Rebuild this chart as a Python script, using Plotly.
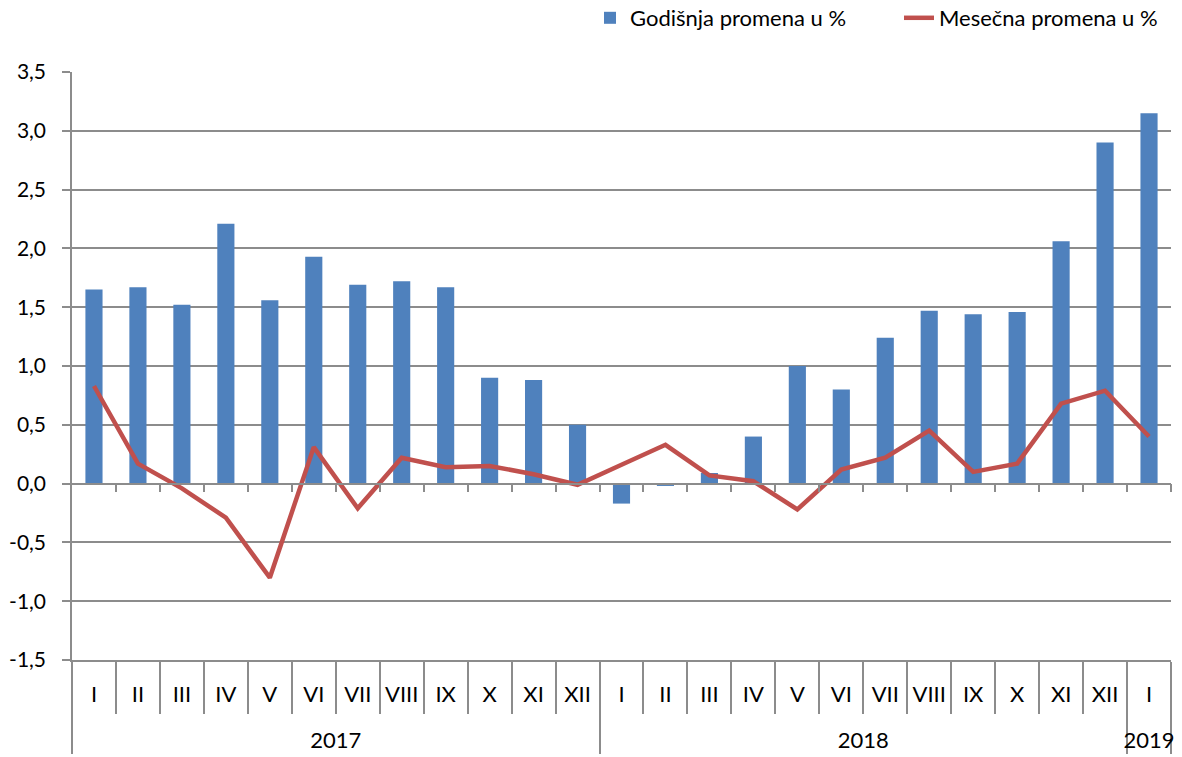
import plotly.graph_objects as go

years = ["2017"] * 12 + ["2018"] * 12 + ["2019"]
months = ["I", "II", "III", "IV", "V", "VI", "VII", "VIII", "IX", "X", "XI", "XII",
          "I", "II", "III", "IV", "V", "VI", "VII", "VIII", "IX", "X", "XI", "XII",
          "I"]
annual = [1.65, 1.67, 1.52, 2.21, 1.56, 1.93, 1.69, 1.72, 1.67, 0.90, 0.88, 0.50,
          -0.17, -0.02, 0.09, 0.40, 1.00, 0.80, 1.24, 1.47, 1.44, 1.46, 2.06, 2.90,
          3.15]
monthly = [0.83, 0.17, -0.04, -0.29, -0.80, 0.31, -0.21, 0.22, 0.14, 0.15, 0.08, -0.01,
           0.16, 0.33, 0.07, 0.02, -0.22, 0.12, 0.22, 0.45, 0.10, 0.17, 0.68, 0.79,
           0.40]
ytick_vals = [-1.5, -1.0, -0.5, 0.0, 0.5, 1.0, 1.5, 2.0, 2.5, 3.0, 3.5]
ytick_text = [f"{v:.1f}".replace(".", ",") for v in ytick_vals]

FONT = "Lato"
GRID = "#8c8c8c"

# month labels get an empty second line so the year row sits lower
month_labels = [m + "<br><span style='font-size:35px'> </span>" for m in months]

fig = go.Figure()
fig.add_trace(go.Bar(
    x=[years, month_labels], y=annual, name="Godišnja promena u %",
    marker=dict(color="#4F81BD", line=dict(width=0)), width=0.39,
))
fig.add_trace(go.Scatter(
    x=[years, month_labels], y=monthly, name="Mesečna promena u %",
    mode="lines", line=dict(color="#C0504D", width=4.5),
))
# helper invisible trace for the tick axis drawn at y = 0
fig.add_trace(go.Scatter(
    x=list(range(len(months))), y=monthly, xaxis="x2", mode="lines",
    opacity=0, showlegend=False, hoverinfo="skip",
))

fig.update_layout(
    width=1182, height=757,
    margin=dict(l=72, r=11, t=72, b=97, autoexpand=False),
    paper_bgcolor="white", plot_bgcolor="white",
    font=dict(family=FONT, size=20, color="black"),
    showlegend=True,
    legend=dict(orientation="h", xref="container", yref="container",
                x=590 / 1182, xanchor="left", y=1 - 18 / 757, yanchor="middle",
                font=dict(family=FONT, size=22), traceorder="normal",
                entrywidth=264, entrywidthmode="pixels",
                bgcolor="rgba(0,0,0,0)"),
    xaxis=dict(
        type="multicategory", automargin=False,
        showgrid=False, showline=True, linecolor=GRID, linewidth=1.5,
        ticks="outside", ticklen=52, tickcolor=GRID, tickwidth=1.5,
        tickson="boundaries", ticklabelstandoff=14,
        showdividers=True, dividercolor=GRID, dividerwidth=1.5,
        tickfont=dict(family=FONT, size=22),
        range=[-0.5, 24.5],
    ),
    xaxis2=dict(
        overlaying="x", anchor="free", position=0.3,
        range=[-0.5, len(months) - 0.5],
        tickmode="array", tickvals=[i + 0.5 for i in range(len(months))],
        showticklabels=False, ticks="outside", ticklen=8, tickcolor=GRID, tickwidth=1.5,
        showline=True, linecolor=GRID, linewidth=1.5, showgrid=False, zeroline=False,
    ),
    yaxis=dict(
        range=[-1.5, 3.5], tickvals=ytick_vals, ticktext=ytick_text, automargin=False,
        showgrid=True, gridcolor=GRID, gridwidth=1.5,
        showline=True, linecolor=GRID, linewidth=1.5,
        ticks="outside", ticklen=8, tickcolor=GRID, tickwidth=1.5,
        ticklabelstandoff=12,
        zeroline=False, tickfont=dict(family=FONT, size=21),
    ),
)

fig.write_html("out.html", config={"displayModeBar": False},
               post_script="document.body.style.margin='0';")
